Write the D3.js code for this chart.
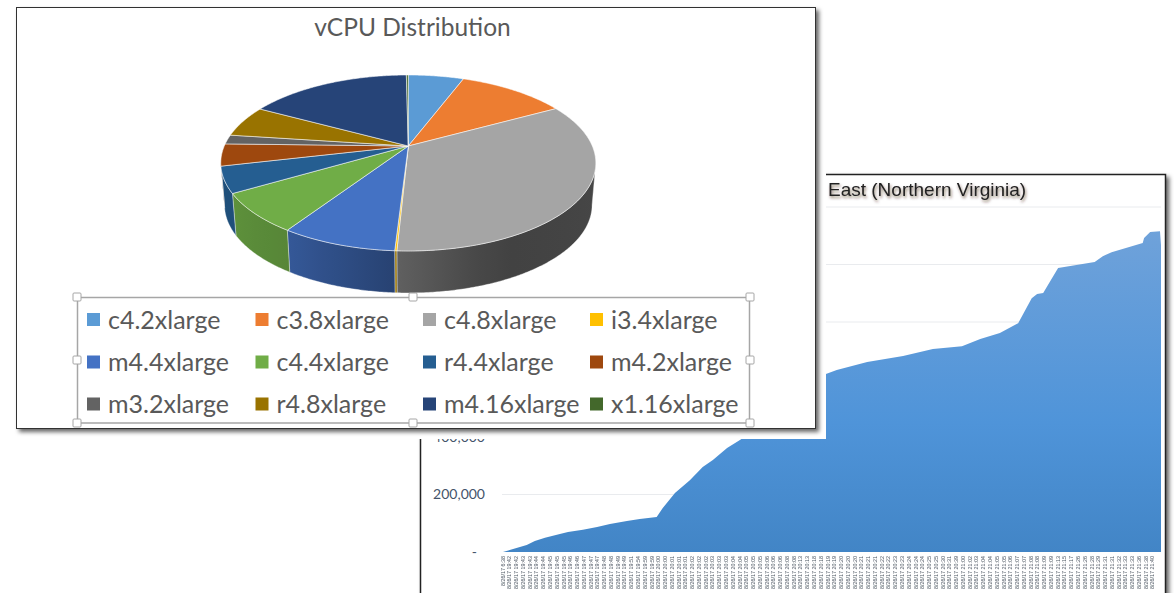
<!DOCTYPE html>
<html>
<head>
<meta charset="utf-8">
<title>vCPU Distribution</title>
<script src="https://cdn.jsdelivr.net/npm/d3@7"></script>
<style>
    html, body { margin: 0; padding: 0; background: #fff; overflow: hidden; }
    svg { display: block; }
    .domain { display: none; }
</style>
</head>
<body>
<svg id="chart" width="1174" height="593"></svg>
<script>
// pie shares, in percent
const instanceTypes = ['c4.2xlarge', 'c3.8xlarge', 'c4.8xlarge', 'i3.4xlarge', 'm4.4xlarge', 'c4.4xlarge',
    'r4.4xlarge', 'm4.2xlarge', 'm3.2xlarge', 'r4.8xlarge', 'm4.16xlarge', 'x1.16xlarge'];
const vcpuShares = [5.75, 11.25, 33.8, 0.15, 8.35, 7.25, 4.8, 4.05, 1.7, 5.8, 16.9, 0.2];
const sliceColors = ['#5b9bd5', '#ed7d31', '#a5a5a5', '#ffc000', '#4472c4', '#70ad47',
    '#255e91', '#9e480e', '#636363', '#997300', '#264478', '#43682b'];

// area chart: category labels, then the curve's breakpoints (category position, vCPUs)
const clockTimes = ['6:38',
    '19:42', '19:42', '19:43', '19:43', '19:44', '19:44', '19:45', '19:45', '19:45', '19:46',
    '19:46', '19:47', '19:47', '19:47', '19:48', '19:48', '19:49', '19:49', '19:51', '19:54',
    '19:59', '19:59', '20:00', '20:00', '20:01', '20:01', '20:01', '20:02', '20:02', '20:02',
    '20:03', '20:03', '20:03', '20:04', '20:04', '20:05', '20:05', '20:05', '20:06', '20:06',
    '20:06', '20:08', '20:08', '20:13', '20:13', '20:18', '20:18', '20:19', '20:19', '20:20',
    '20:20', '20:20', '20:21', '20:21', '20:21', '20:22', '20:22', '20:23', '20:23', '20:24',
    '20:24', '20:24', '20:25', '20:25', '20:30', '20:31', '20:39', '21:00', '21:02', '21:03',
    '21:04', '21:04', '21:05', '21:05', '21:06', '21:07', '21:07', '21:08', '21:08', '21:09',
    '21:09', '21:13', '21:15', '21:17', '21:26', '21:26', '21:28', '21:29', '21:31', '21:31',
    '21:32', '21:33', '21:33', '21:36', '21:38', '21:40'];
const curvePositions = [0, 3.5, 4.7, 6.2, 8.4, 9.6, 11.8, 13.9, 15.8, 18.3, 20.2, 22.7, 23.6, 25.4, 27.6, 29.5,
    31, 33.1, 35, 39.3, 43.9, 47.7, 49.3, 53.8, 59.1, 63.5, 67.8, 70.5, 73.4, 76.1, 78.1, 78.9, 79.8, 80.5, 82,
    87.4, 88.6, 89.9, 94.5, 94.7, 95.6, 97.05, 97.2];
const curveValues = [0, 24, 38, 50, 63, 70, 77, 87, 97, 108, 115, 122, 153, 205, 250, 296,
    320, 362, 390, 459, 556, 619, 633, 661, 682, 706, 716, 741, 762, 796, 883, 897, 901, 929, 988,
    1009, 1029, 1043, 1075, 1092, 1113, 1116, 1068].map(v => v * 1000);
const gridValues = [200000, 400000, 600000, 800000, 1000000, 1200000];
// the other tick labels are behind the pie panel in the picture
const labelledValues = [0, 200000, 400000];

const svg = d3.select('#chart');
const defs = svg.append('defs');

const shadow = defs.append('filter').attr('id', 'panel-shadow')
    .attr('x', '-3%').attr('y', '-3%').attr('width', '106%').attr('height', '106%');
shadow.append('feDropShadow').attr('dx', 3).attr('dy', 3).attr('stdDeviation', 2)
    .attr('flood-color', '#000').attr('flood-opacity', 0.6);

const glow = defs.append('filter').attr('id', 'title-glow')
    .attr('x', '-5%').attr('y', '-30%').attr('width', '110%').attr('height', '170%');
glow.append('feDropShadow').attr('dx', 1).attr('dy', 2).attr('stdDeviation', 1.6)
    .attr('flood-color', '#3a1a10').attr('flood-opacity', 0.6);

defs.append('filter').attr('id', 'soft')
    .append('feGaussianBlur').attr('stdDeviation', 0.35);

const areaFill = defs.append('linearGradient').attr('id', 'area-fill')
    .attr('gradientUnits', 'userSpaceOnUse')
    .attr('x1', 0).attr('x2', 0).attr('y1', 230).attr('y2', 552);
areaFill.append('stop').attr('offset', '0%').attr('stop-color', '#6fa2da');
areaFill.append('stop').attr('offset', '60%').attr('stop-color', '#4f94d9');
areaFill.append('stop').attr('offset', '100%').attr('stop-color', '#4285c6');

// ---- area chart panel, sits behind the pie panel
svg.append('rect')
    .attr('x', 420.5).attr('y', 174.5).attr('width', 745).attr('height', 430)
    .attr('fill', '#fff').attr('stroke', '#222').attr('stroke-width', 1.5)
    .attr('filter', 'url(#panel-shadow)');

const x = d3.scaleLinear().domain([0, 97.2]).range([503, 1161]);
const y = d3.scaleLinear().domain([0, 1200000]).range([552, 207]);

svg.append('g').selectAll('line')
    .data(gridValues)
    .join('line')
    .attr('x1', x(0) - 1).attr('x2', x.range()[1])
    .attr('y1', d => y(d)).attr('y2', d => y(d))
    .attr('stroke', '#e9ebee').attr('stroke-width', 1);

const curve = d3.area()
    .x(i => x(curvePositions[i]))
    .y0(y(0))
    .y1(i => y(curveValues[i]));

svg.append('path')
    .attr('d', curve(d3.range(curveValues.length)))
    .attr('fill', 'url(#area-fill)');

const yAxis = svg.append('g')
    .attr('transform', 'translate(485,0)')
    .call(d3.axisLeft(y).tickValues(labelledValues).tickSize(0).tickPadding(0)
        .tickFormat(d => (d === 0 ? '-' : d3.format(',')(d))));
yAxis.selectAll('text')
    .attr('font-family', 'Lato, sans-serif')
    .attr('font-size', 14)
    .attr('fill', '#44546a');
yAxis.selectAll('.tick').filter(d => d === 0).select('text').attr('x', -8);

svg.append('g')
    .attr('filter', 'url(#soft)')
    .selectAll('text')
    .data(clockTimes)
    .join('text')
    .attr('transform', (d, i) => `translate(${x(i) + 1.6},556) rotate(-90)`)
    .attr('text-anchor', 'end')
    .attr('font-family', 'Liberation Sans, sans-serif')
    .attr('font-size', 5.4)
    .attr('fill', '#4f5864')
    .text(d => `8/26/17 ${d}`);

svg.append('text')
    .attr('x', 828).attr('y', 196)
    .attr('font-family', 'Liberation Sans, sans-serif')
    .attr('font-size', 19)
    .attr('fill', '#222')
    .attr('filter', 'url(#title-glow)')
    .text('East (Northern Virginia)');

// ---- pie panel with its white margin
svg.append('rect')
    .attr('x', 0).attr('y', 0).attr('width', 826).attr('height', 439)
    .attr('fill', '#fff');
svg.append('rect')
    .attr('x', 16.5).attr('y', 7.5).attr('width', 799).attr('height', 421)
    .attr('fill', '#fff').attr('stroke', '#333').attr('stroke-width', 1)
    .attr('filter', 'url(#panel-shadow)');

svg.append('text')
    .attr('x', 412.5).attr('y', 36)
    .attr('text-anchor', 'middle')
    .attr('font-family', 'Lato, sans-serif')
    .attr('font-size', 24.5)
    .attr('fill', '#595959')
    .text('vCPU Distribution');

// the disc is a unit circle seen in perspective, k is how much the back shrinks
const pieCx = 408.3;
const pieCy = 146;
const pieRx = 184;
const pieRy = 84.7;
const k = 0.193;
const wallHeight = 42;

function project(theta, drop) {
    const w = 1 + k * Math.cos(theta);
    const narrow = drop ? 0.98 : 1;
    return [
        pieCx + narrow * pieRx * Math.sin(theta) / w,
        pieCy - pieRy * Math.cos(theta) / w + drop
    ];
}

function arcPoints(from, to, drop) {
    const n = Math.max(2, Math.ceil((to - from) / 0.01));
    return d3.range(n + 1).map(i => project(from + (to - from) * i / n, drop));
}

const line = d3.line();
const arcs = d3.pie().sort(null)(vcpuShares);

// only the front of the wall shows: from where cos(theta) = -k round to the other side
const frontStart = Math.acos(-k);
const frontEnd = 2 * Math.PI - frontStart;

// how much of its colour the wall keeps, by angle round the disc (light comes from the left)
const wallShade = d3.scaleLinear()
    .domain([100, 157, 183, 212, 240, 260].map(d => d * Math.PI / 180))
    .range([0.43, 0.4, 0.58, 0.77, 0.84, 0.85]);

const walls = svg.append('g');
arcs.forEach((a, i) => {
    const from = Math.max(a.startAngle, frontStart);
    const to = Math.min(a.endAngle, frontEnd);
    if (to <= from) {
        return;
    }
    const base = d3.rgb(sliceColors[i]);
    const left = project(to, 0)[0];
    const right = project(from, 0)[0];
    const grad = defs.append('linearGradient').attr('id', `wall-${i}`);
    d3.range(9).forEach((s) => {
        const theta = to + (from - to) * s / 8;
        const f = wallShade(theta);
        grad.append('stop')
            .attr('offset', (project(theta, 0)[0] - left) / (right - left))
            .attr('stop-color', d3.rgb(base.r * f, base.g * f, base.b * f));
    });
    const pts = arcPoints(from, to, 0).concat(arcPoints(from, to, wallHeight).reverse());
    walls.append('path')
        .attr('d', `${line(pts)}Z`)
        .attr('fill', `url(#wall-${i})`)
        .attr('stroke', '#fff').attr('stroke-opacity', 0.45).attr('stroke-width', 0.8);
});

svg.append('g').selectAll('path')
    .data(arcs)
    .join('path')
    .attr('d', a => `${line([[pieCx, pieCy]].concat(arcPoints(a.startAngle, a.endAngle, 0)))}Z`)
    .attr('fill', (a, i) => sliceColors[i])
    .attr('stroke', '#fff').attr('stroke-opacity', 0.6).attr('stroke-width', 0.9);

// ---- legend, three rows of four with selection handles round it
const legendCols = [87, 255.5, 423, 590];
const legendRows = [319.5, 362, 404];

svg.append('rect')
    .attr('x', 77.5).attr('y', 297.5).attr('width', 672).attr('height', 125.5)
    .attr('fill', 'none').attr('stroke', '#a6a6a6').attr('stroke-width', 1.5);

const legendItem = svg.append('g').selectAll('g')
    .data(instanceTypes)
    .join('g')
    .attr('transform', (d, i) => `translate(${legendCols[i % 4]},${legendRows[Math.floor(i / 4)]})`);
legendItem.append('rect')
    .attr('x', 0).attr('y', -6.5).attr('width', 13).attr('height', 13)
    .attr('fill', (d, i) => sliceColors[i]);
legendItem.append('text')
    .attr('x', 21).attr('y', 9)
    .attr('font-family', 'Lato, sans-serif')
    .attr('font-size', 25)
    .attr('fill', '#595959')
    .text(d => d);

const handles = [[77, 297], [413, 297], [750, 297], [77, 360], [750, 360], [77, 423], [413, 423], [750, 423]];
svg.append('g').selectAll('rect')
    .data(handles)
    .join('rect')
    .attr('x', d => d[0] - 4).attr('y', d => d[1] - 4)
    .attr('width', 8).attr('height', 8).attr('rx', 1)
    .attr('fill', '#fff').attr('stroke', '#a6a6a6').attr('stroke-width', 1);
</script>
</body>
</html>
